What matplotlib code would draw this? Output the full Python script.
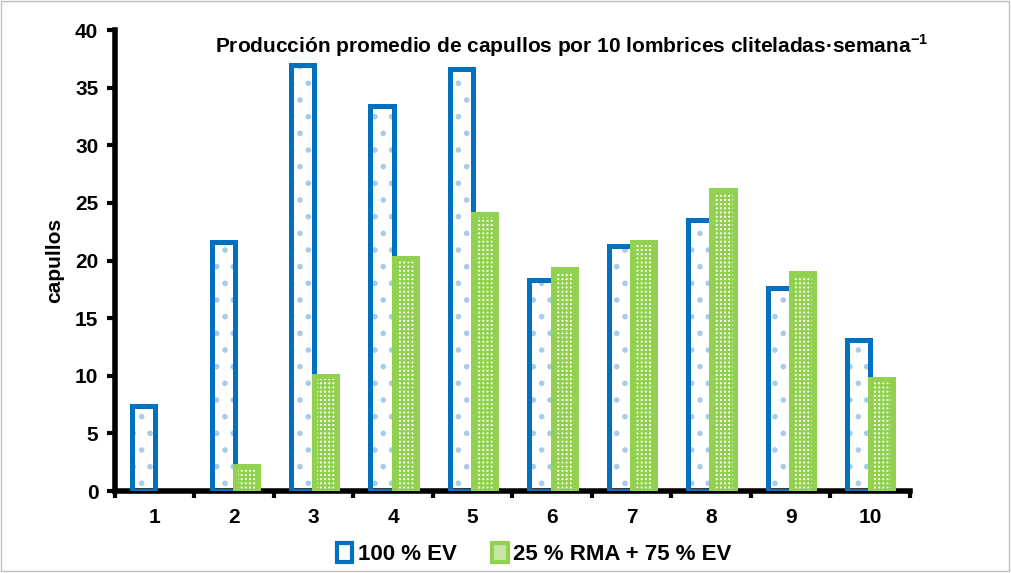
import matplotlib
matplotlib.use("Agg")
import matplotlib.pyplot as plt
import numpy as np
from matplotlib.patches import Rectangle, Patch
from matplotlib.ticker import FixedLocator, NullFormatter

categories = ["1", "2", "3", "4", "5", "6", "7", "8", "9", "10"]
ev100 = [7.4, 21.6, 37.0, 33.4, 36.6, 18.3, 21.3, 23.5, 17.6, 13.1]
rma25 = [0.0, 2.2, 10.0, 20.2, 24.0, 19.3, 21.6, 26.1, 18.9, 9.7]
series_names = ["100 % EV", "25 % RMA + 75 % EV"]
title = r"Producción promedio de capullos por 10 lombrices cliteladas·semana$^{\mathbf{-1}}$"

plt.rcParams['font.family'] = ['Liberation Sans', 'DejaVu Sans']
plt.rcParams['mathtext.fontset'] = 'custom'
plt.rcParams['mathtext.bf'] = 'Liberation Sans:bold'
plt.rcParams['mathtext.rm'] = 'Liberation Sans'
plt.rcParams['hatch.linewidth'] = 1.6

BLUE = "#0070c0"
GREEN = "#92d050"

fig = plt.figure(figsize=(10.12, 5.73), dpi=100)
ax = fig.add_axes([0.1136, 0.1431, 0.7854, 0.8045])

x = np.arange(len(categories))
w = 0.29
xb = x - 0.14
xg = x + 0.15

# blue bars: dotted fill then thick outline
ax.bar(xb, ev100, width=w, color="white", edgecolor="#a9cbea", hatch=".", linewidth=0, zorder=2)
ax.bar(xb, ev100, width=w, color="none", edgecolor=BLUE, linewidth=3.6, zorder=3)
# green bars: checker fill then thick outline
gvals = np.array(rma25)
mask = gvals > 0
ax.bar(xg[mask], gvals[mask], width=w, color="white", edgecolor=GREEN, hatch="++++", linewidth=0, zorder=4)
ax.bar(xg[mask], gvals[mask], width=w, color="none", edgecolor=GREEN, linewidth=3.6, zorder=5)

ax.set_xlim(-0.5, len(categories) - 0.5)
ax.set_ylim(0, 40)
ax.set_yticks(np.arange(0, 41, 5))
ax.set_xticks(x)
ax.set_xticklabels(categories)
ax.xaxis.set_minor_locator(FixedLocator(np.arange(-0.5, len(categories), 1.0)))
ax.xaxis.set_minor_formatter(NullFormatter())
ax.tick_params(axis='x', which='major', length=0, pad=12, labelsize=15)
ax.tick_params(axis='x', which='minor', length=5, width=3, direction='out')
ax.tick_params(axis='y', length=6, width=3, direction='out', labelsize=15, pad=6)
for lab in ax.get_xticklabels() + ax.get_yticklabels():
    lab.set_fontweight('bold')

for s in ['top', 'right']:
    ax.spines[s].set_visible(False)
for s in ['left', 'bottom']:
    ax.spines[s].set_linewidth(4)
    ax.spines[s].set_color('black')

ax.set_ylabel("capullos", fontsize=15, fontweight='bold', labelpad=8)
ax.text(0.575, 0.995, title, transform=ax.transAxes, ha='center', va='top',
        fontsize=15, fontweight='bold')

handles = [Patch(facecolor='white', edgecolor=BLUE, linewidth=3),
           Patch(facecolor='#c8e6a6', edgecolor=GREEN, linewidth=3)]
fig.legend(handles, series_names, loc='center', bbox_to_anchor=(0.528, 0.033),
           ncol=2, frameon=False, prop={'weight': 'bold', 'size': 16},
           handlelength=0.7, handleheight=0.9, handletextpad=0.25, columnspacing=1.6)

fig.patches.append(Rectangle((0.001, 0.004), 0.996, 0.994, transform=fig.transFigure,
                             fill=False, edgecolor='#bfbfbf', linewidth=1))

fig.savefig("out.png", dpi=100)
